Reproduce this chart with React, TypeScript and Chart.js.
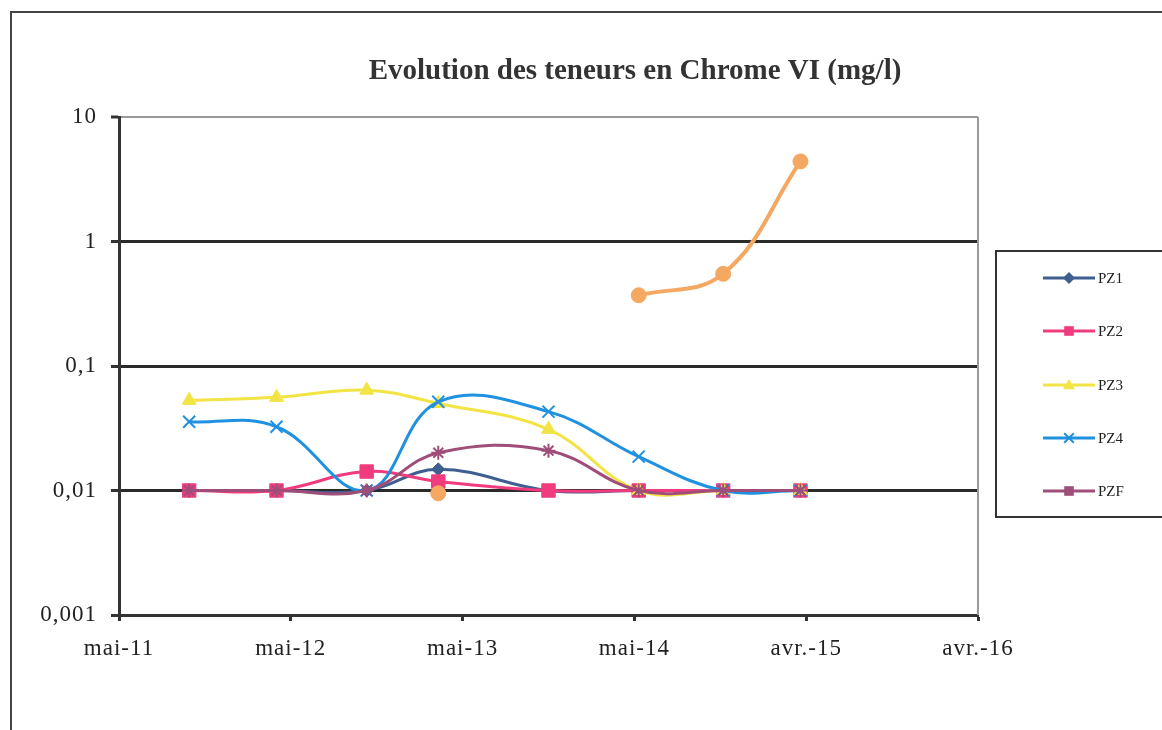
import React, { useEffect, useRef } from "react";
import { Chart, registerables } from "chart.js";

Chart.register(...registerables);

// ---- Data ----
const chartTitle = "Evolution des teneurs en Chrome VI (mg/l)";
// sampling dates, in months after mai-11
const sampleMonths = [4.9, 11.0, 17.3, 22.3, 30.0, 36.3, 42.2, 47.6];
const xTickMonths = [0, 12, 24, 36, 48, 60];
const xTickLabels = ["mai-11", "mai-12", "mai-13", "mai-14", "avr.-15", "avr.-16"];
const yTickValues = [0.001, 0.01, 0.1, 1, 10];
const yTickLabels = ["0,001", "0,01", "0,1", "1", "10"];

const seriesNames = ["PZ1", "PZ2", "PZ3", "PZ4", "PZF"];
const pz1 = [0.01, 0.01, 0.01, 0.0148, 0.01, 0.01, 0.01, 0.01];
const pz2 = [0.01, 0.01, 0.0142, 0.0118, 0.01, 0.01, 0.01, 0.01];
const pz3 = [0.053, 0.056, 0.064, 0.05, 0.031, 0.01, 0.01, 0.01];
const pz4 = [0.0357, 0.0325, 0.01, 0.0516, 0.043, 0.0187, 0.01, 0.01];
const pzf = [0.01, 0.01, 0.01, 0.0201, 0.0209, 0.01, 0.01, 0.01];
const extra = [null, null, null, 0.0095, null, 0.37, 0.55, 4.4];

const colors = ["#3F5F8F", "#F03C7E", "#F2E445", "#2090E0", "#9E4E78", "#F5A862"];
const markers = ["rectRot", "rect", "triangle", "crossRot", "star", "circle"];
const markerRadius = [6.5, 9.5, 8, 8.5, 7, 7.5];

const FONT = '"Liberation Serif", "Times New Roman", serif';

function toPoints(vals: (number | null)[]) {
  return vals.map((v, i) => ({ x: sampleMonths[i], y: v }));
}

function legendMarker(ctx: CanvasRenderingContext2D, style: string, x: number, y: number, r: number, color: string) {
  ctx.fillStyle = color;
  ctx.strokeStyle = color;
  ctx.lineWidth = 2;
  ctx.beginPath();
  if (style === "rectRot") {
    ctx.moveTo(x, y - r);
    ctx.lineTo(x + r, y);
    ctx.lineTo(x, y + r);
    ctx.lineTo(x - r, y);
    ctx.closePath();
    ctx.fill();
  } else if (style === "rect") {
    ctx.rect(x - r * 0.8, y - r * 0.8, r * 1.6, r * 1.6);
    ctx.fill();
  } else if (style === "triangle") {
    ctx.moveTo(x, y - r);
    ctx.lineTo(x + r, y + r * 0.7);
    ctx.lineTo(x - r, y + r * 0.7);
    ctx.closePath();
    ctx.fill();
  } else if (style === "crossRot") {
    ctx.moveTo(x - r * 0.8, y - r * 0.8);
    ctx.lineTo(x + r * 0.8, y + r * 0.8);
    ctx.moveTo(x + r * 0.8, y - r * 0.8);
    ctx.lineTo(x - r * 0.8, y + r * 0.8);
    ctx.stroke();
  } else {
    ctx.rect(x - r * 0.8, y - r * 0.8, r * 1.6, r * 1.6);
    ctx.fill();
  }
}

const decorPlugin = {
  id: "decor",
  beforeDraw(chart: any) {
    try {
      (chart.ctx as any).letterSpacing = "1px";
    } catch (e) {}
  },
  afterDraw(chart: any) {
    const { ctx, chartArea } = chart;
    ctx.save();
    (ctx as any).letterSpacing = "0px";
    // right border of plot area
    ctx.strokeStyle = "#9a9a9a";
    ctx.lineWidth = 2;
    ctx.beginPath();
    ctx.moveTo(chartArea.right, chartArea.top);
    ctx.lineTo(chartArea.right, chartArea.bottom);
    ctx.stroke();

    // title
    ctx.fillStyle = "#333";
    ctx.font = `bold 29px ${FONT}`;
    ctx.textAlign = "center";
    ctx.textBaseline = "middle";
    ctx.fillText(chartTitle, 635, 72);

    // legend
    const bx = 996, by = 251;
    ctx.strokeStyle = "#333";
    ctx.lineWidth = 2;
    ctx.strokeRect(bx, by, 200, 266);
    const rows = [278, 331, 385, 438, 491];
    seriesNames.forEach((name, i) => {
      const y = rows[i];
      ctx.strokeStyle = colors[i];
      ctx.lineWidth = 3;
      ctx.beginPath();
      ctx.moveTo(1043, y);
      ctx.lineTo(1095, y);
      ctx.stroke();
      legendMarker(ctx, markers[i], 1069, y, 6, colors[i]);
      ctx.fillStyle = "#222";
      ctx.font = `15px ${FONT}`;
      ctx.textAlign = "left";
      ctx.textBaseline = "middle";
      ctx.fillText(name, 1098, y + 1);
    });
    ctx.restore();
  },
};

export default function App() {
  const ref = useRef<HTMLCanvasElement | null>(null);

  useEffect(() => {
    if (!ref.current) return;
    Chart.defaults.font.family = FONT;
    const all = [pz1, pz2, pz3, pz4, pzf, extra];
    const datasets = all.map((vals, i) => ({
      label: i < seriesNames.length ? seriesNames[i] : "",
      data: toPoints(vals),
      borderColor: colors[i],
      backgroundColor: colors[i],
      pointBackgroundColor: colors[i],
      pointBorderColor: colors[i],
      pointStyle: markers[i],
      pointRadius: markerRadius[i],
      pointBorderWidth: markers[i] === "crossRot" || markers[i] === "star" ? 2 : 1,
      borderWidth: i === 5 ? 4 : 3,
      tension: 0.4,
      spanGaps: false,
      fill: false,
      order: 5 - i,
    }));

    const chart = new Chart(ref.current, {
      type: "line",
      data: { datasets },
      plugins: [decorPlugin],
      options: {
        responsive: false,
        animation: false,
        layout: { padding: { left: 0, right: 1162 - 978, top: 117, bottom: 0 } },
        plugins: {
          legend: { display: false },
          title: { display: false },
          tooltip: { enabled: false },
        },
        scales: {
          x: {
            type: "linear",
            min: 0,
            max: 60,
            afterBuildTicks: (s: any) => {
              s.ticks = xTickMonths.map((v) => ({ value: v }));
            },
            afterFit: (s: any) => {
              s.height = 730 - 615;
            },
            grid: {
              drawOnChartArea: false,
              drawTicks: true,
              tickLength: 6,
              tickColor: "#333",
              tickWidth: 3,
              color: "#333",
            },
            border: { display: true, color: "#333", width: 3 },
            ticks: {
              color: "#222",
              font: { size: 23, family: FONT },
              padding: 14,
              maxRotation: 0,
              autoSkip: false,
              callback: (_v: any, i: number) => xTickLabels[i],
            },
          },
          y: {
            type: "logarithmic",
            min: 0.001,
            max: 10,
            afterBuildTicks: (s: any) => {
              s.ticks = yTickValues.map((v) => ({ value: v }));
            },
            afterFit: (s: any) => {
              s.width = 119;
            },
            grid: {
              drawTicks: true,
              tickLength: 8,
              tickColor: "#333",
              tickWidth: 3,
              color: (c: any) => (c.tick && c.tick.value === 10 ? "#9a9a9a" : "#2a2a2a"),
              lineWidth: (c: any) => (c.tick && c.tick.value === 10 ? 2 : 3),
            },
            border: { display: true, color: "#333", width: 3 },
            ticks: {
              color: "#222",
              font: { size: 23, family: FONT },
              padding: 14,
              autoSkip: false,
              callback: (_v: any, i: number) => yTickLabels[i],
            },
          },
        },
      },
    } as any);
    return () => chart.destroy();
  }, []);

  return (
    <div
      style={{
        position: "absolute",
        left: 0,
        top: 0,
        width: 1162,
        height: 730,
        background: "#fff",
        overflow: "hidden",
      }}
    >
      <div
        style={{
          position: "absolute",
          left: 10,
          top: 11,
          width: 1200,
          height: 800,
          borderLeft: "2px solid #444",
          borderTop: "2px solid #444",
        }}
      />
      <canvas
        ref={ref}
        width={1162}
        height={730}
        style={{ position: "absolute", left: 0, top: 0, width: 1162, height: 730 }}
      />
    </div>
  );
}
